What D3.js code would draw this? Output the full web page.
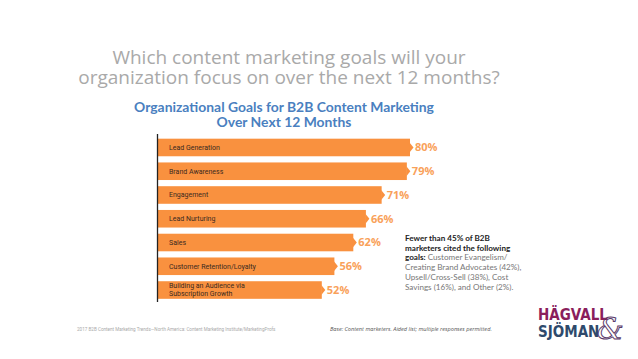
<!DOCTYPE html>
<html>
<head>
<meta charset="utf-8">
<script src="https://cdn.jsdelivr.net/npm/d3@7"></script>
<style>
  body { margin: 0; background: #fff; }
  svg { display: block; }
</style>
</head>
<body>
<svg id="chart" width="638" height="359"></svg>
<script>
// data
var goals = ["Lead Generation", "Brand Awareness", "Engagement", "Lead Nurturing", "Sales",
             "Customer Retention/Loyalty", "Building an Audience via\nSubscription Growth"];
var shares = [80, 79, 71, 66, 62, 56, 52];
var titleLines = ["Which content marketing goals will your", "organization focus on over the next 12 months?"];
var subtitleLines = ["Organizational Goals for B2B Content Marketing", "Over Next 12 Months"];
var noteBold = ["Fewer than 45% of B2B", "marketers cited the following", "goals:"];
var noteRest = [" Customer Evangelism/", "Creating Brand Advocates (42%),", "Upsell/Cross-Sell (38%), Cost", "Savings (16%), and Other (2%)."];

var svg = d3.select("#chart");
var orange = "#f9913f";

// headline
svg.selectAll(".title")
  .data(titleLines)
  .enter().append("text")
  .attr("class", "title")
  .attr("x", 289)
  .attr("y", function(d, i) { return 64 + i * 19.5; })
  .attr("text-anchor", "middle")
  .style("font-family", "'Open Sans', sans-serif")
  .style("font-size", "19px")
  .style("fill", "#a9a9a9")
  .text(function(d) { return d; });

svg.selectAll(".subtitle")
  .data(subtitleLines)
  .enter().append("text")
  .attr("class", "subtitle")
  .attr("x", 284)
  .attr("y", function(d, i) { return 112 + i * 14.5; })
  .attr("text-anchor", "middle")
  .style("font-family", "Lato, sans-serif")
  .style("font-weight", "bold")
  .style("font-size", "13.9px")
  .style("fill", "#4a7fc0")
  .text(function(d) { return d; });

// scales
var x = d3.scaleLinear().domain([0, 100]).range([158, 473]);
var y = d3.scaleBand().domain(goals).range([135.6, 301.9]).paddingInner(0.26).paddingOuter(0.13);

var rows = svg.selectAll(".row")
  .data(goals)
  .enter().append("g")
  .attr("class", "row");

rows.append("rect")
  .attr("x", x(0))
  .attr("y", function(d) { return y(d); })
  .attr("width", function(d, i) { return x(shares[i]) - x(0); })
  .attr("height", y.bandwidth())
  .style("fill", orange);

// little arrow tip at bar end
rows.append("path")
  .attr("d", function(d, i) {
    var xe = x(shares[i]), yc = y(d) + y.bandwidth() / 2;
    return "M" + (xe - 0.5) + "," + (yc - 5) + "L" + (xe + 3.5) + "," + yc + "L" + (xe - 0.5) + "," + (yc + 5) + "Z";
  })
  .style("fill", orange);

rows.append("text")
  .attr("x", x(0) + 11)
  .attr("y", function(d) { return y(d) + y.bandwidth() / 2; })
  .style("font-family", "Roboto, sans-serif")
  .style("font-size", "7px")
  .style("fill", "#3a2a20")
  .each(function(d) {
    var parts = d.split("\n");
    var t = d3.select(this);
    parts.forEach(function(p, k) {
      t.append("tspan")
        .attr("x", x(0) + 11)
        .attr("dy", k === 0 ? (parts.length > 1 ? "-0.25em" : "0.35em") : "1.05em")
        .text(p);
    });
  });

rows.append("text")
  .attr("x", function(d, i) { return x(shares[i]) + 5; })
  .attr("y", function(d) { return y(d) + y.bandwidth() / 2; })
  .attr("dy", "0.36em")
  .style("font-family", "'Open Sans', sans-serif")
  .style("font-weight", "bold")
  .style("font-size", "11px")
  .style("fill", "#f9a15a")
  .text(function(d, i) { return shares[i] + "%"; });

// axis line
svg.append("line")
  .attr("x1", 157.5).attr("x2", 157.5)
  .attr("y1", 134).attr("y2", 302)
  .style("stroke", "#222")
  .style("stroke-width", 1.3);

// side note
var note = svg.append("text")
  .style("font-family", "Lato, sans-serif")
  .style("font-size", "8.1px");
var noteLines = [
  [noteBold[0], ""], [noteBold[1], ""], [noteBold[2], noteRest[0]],
  ["", noteRest[1]], ["", noteRest[2]], ["", noteRest[3]]
];
noteLines.forEach(function(l, i) {
  var ln = note.append("tspan").attr("x", 405).attr("y", 241 + i * 9.7);
  if (l[0]) ln.append("tspan").style("font-weight", "bold").style("fill", "#222").text(l[0]);
  if (l[1]) ln.append("tspan").style("fill", "#777").text(l[1]);
});

// footer
svg.append("text")
  .attr("x", 77).attr("y", 331)
  .style("font-family", "Roboto, sans-serif")
  .style("font-size", "4.6px")
  .style("fill", "#aaa")
  .text("2017 B2B Content Marketing Trends\u2014North America: Content Marketing Institute/MarketingProfs");

svg.append("text")
  .attr("x", 330).attr("y", 331)
  .style("font-family", "'Open Sans', sans-serif")
  .style("font-style", "italic")
  .style("font-size", "5.6px")
  .style("fill", "#555")
  .text("Base: Content marketers. Aided list; multiple responses permitted.");

// logo
svg.append("text")
  .attr("x", 538).attr("y", 320)
  .style("font-family", "'Liberation Sans Narrow', 'DejaVu Sans Condensed', sans-serif")
  .style("font-weight", "bold")
  .style("font-size", "15px")
  .style("fill", "#8a1e5c")
  .text("HÄGVALL");
svg.append("text")
  .attr("x", 538).attr("y", 336.5)
  .style("font-family", "'Liberation Sans Narrow', 'DejaVu Sans Condensed', sans-serif")
  .style("font-weight", "bold")
  .style("font-size", "15px")
  .style("fill", "#2e4a6c")
  .text("SJÖMAN");
svg.append("text")
  .attr("x", 597).attr("y", 339)
  .style("font-family", "'DejaVu Serif', serif")
  .style("font-style", "italic")
  .style("font-size", "30px")
  .style("fill", "none")
  .style("stroke", "#5a3a6a")
  .style("stroke-width", 1)
  .text("&");
</script>
</body>
</html>
